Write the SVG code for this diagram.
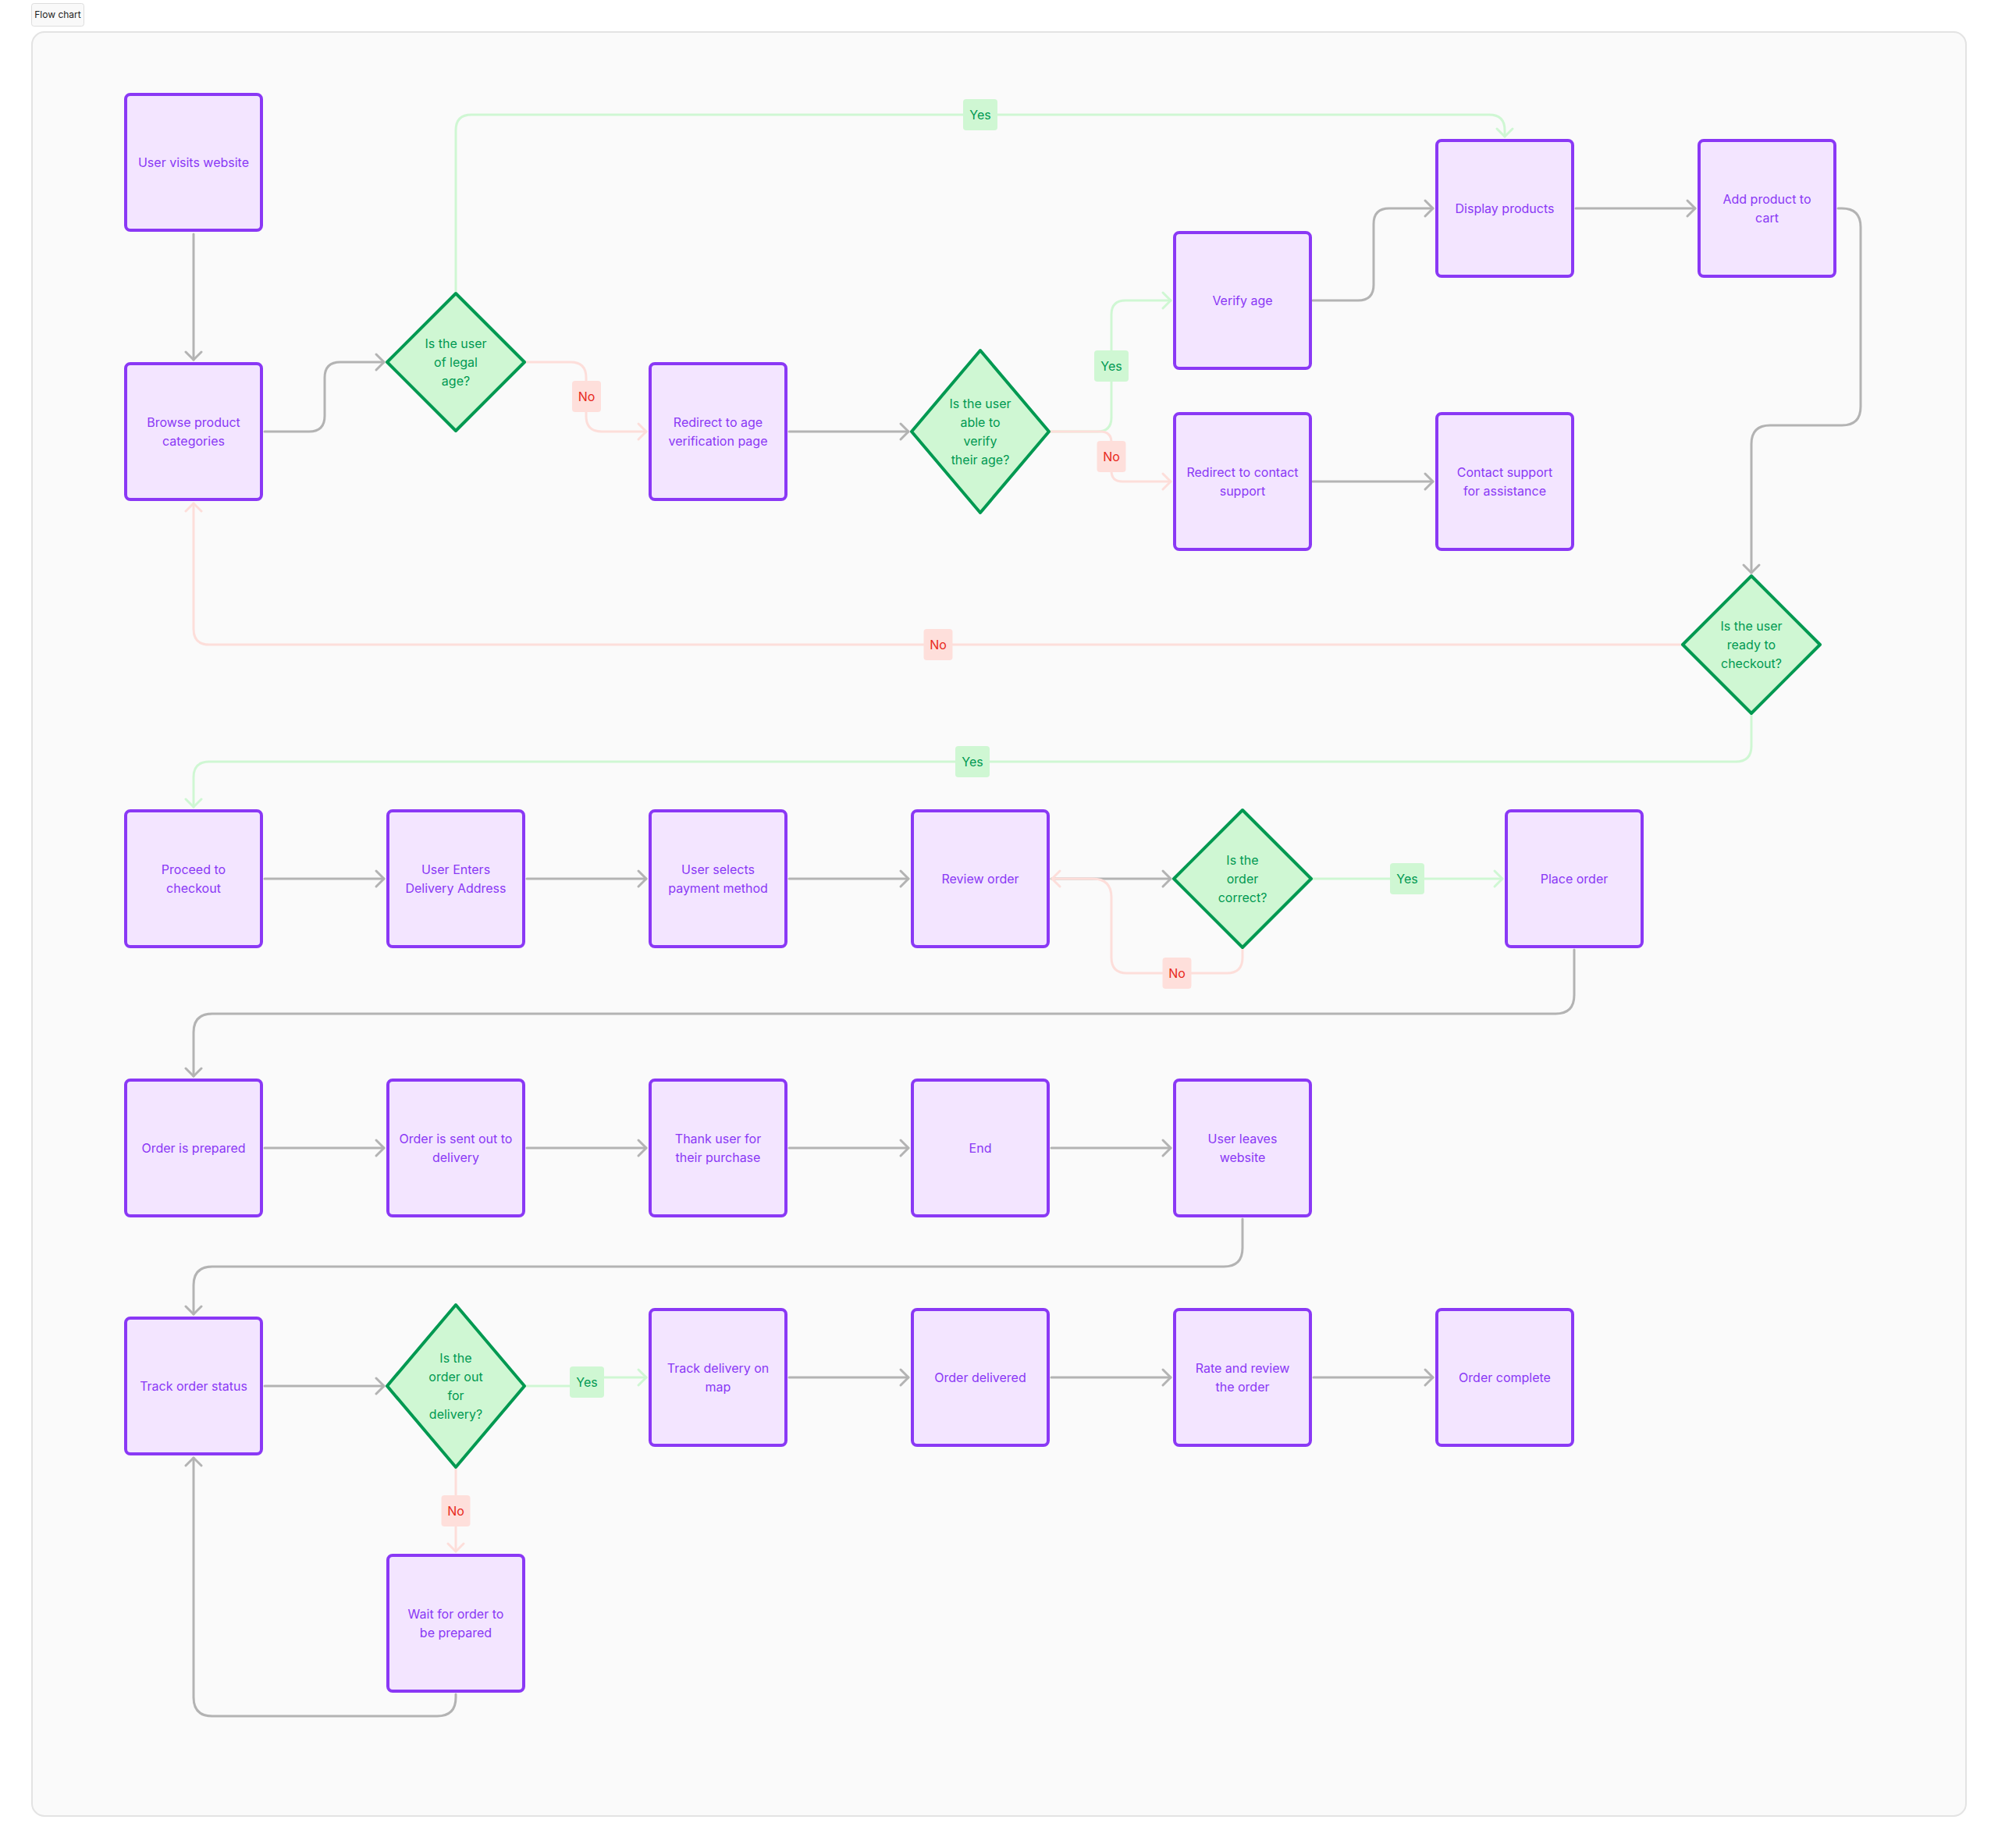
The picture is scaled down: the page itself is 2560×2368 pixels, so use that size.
<svg xmlns="http://www.w3.org/2000/svg" width="2560" height="2368" viewBox="0 0 2560 2368">
<style>
.node rect{fill:#F3E5FF;stroke:#8A38F5;stroke-width:4}
.node text{fill:#8A38F5}
.dec path{fill:#CFF7D3;stroke:#009951;stroke-width:4;stroke-linejoin:round}
.dec text{fill:#009951}
text{font-family:Inter,"Noto Sans","Liberation Sans",sans-serif;font-size:16px;text-anchor:middle;dominant-baseline:central}
.c{fill:none;stroke-width:3;stroke-linecap:round;stroke-linejoin:round}
.g{stroke:#B3B3B3}
.y{stroke:#CFF7D3}
.n{stroke:#FDDEDA}
.ly rect{fill:#CFF7D3}
.ly text{fill:#009951}
.ln rect{fill:#FEDFDB}
.ln text{fill:#E8291C}
</style>
<defs>
<marker id="ag" markerUnits="userSpaceOnUse" markerWidth="24" markerHeight="24" refX="0" refY="0" orient="auto" overflow="visible"><path d="M-10,-10 L0,0 L-10,10" fill="none" stroke="#B3B3B3" stroke-width="3" stroke-linecap="round" stroke-linejoin="round"/></marker>
<marker id="ay" markerUnits="userSpaceOnUse" markerWidth="24" markerHeight="24" refX="0" refY="0" orient="auto" overflow="visible"><path d="M-10,-10 L0,0 L-10,10" fill="none" stroke="#CFF7D3" stroke-width="3" stroke-linecap="round" stroke-linejoin="round"/></marker>
<marker id="an" markerUnits="userSpaceOnUse" markerWidth="24" markerHeight="24" refX="0" refY="0" orient="auto" overflow="visible"><path d="M-10,-10 L0,0 L-10,10" fill="none" stroke="#FDDEDA" stroke-width="3" stroke-linecap="round" stroke-linejoin="round"/></marker>
</defs>
<rect x="0" y="0" width="2560" height="2368" fill="#FFFFFF"/>
<g id="tag">
<rect x="40.5" y="4.5" width="67" height="29" rx="3" fill="#F9F9F9" stroke="#DDDDDD" stroke-width="1"/>
<text x="74" y="18.5" style="font-size:12px;fill:#1E1E1E">Flow chart</text>
</g>
<rect id="frame" x="41" y="41" width="2478" height="2286" rx="16" fill="#FAFAFA" stroke="#E3E3E3" stroke-width="2"/>
<g id="connectors">
<path class="c g" d="M248 300 V461" marker-end="url(#ag)"/>
<path class="c g" d="M339 553 H396 Q416 553 416 533 V484 Q416 464 436 464 H492" marker-end="url(#ag)"/>
<path class="c y" d="M584 374 V167 Q584 147 604 147 H1908 Q1928 147 1928 167 V175" marker-end="url(#ay)"/>
<path class="c n" d="M673 464 H731 Q751 464 751 484 V533 Q751 553 771 553 H828" marker-end="url(#an)"/>
<path class="c g" d="M1011 553 H1164" marker-end="url(#ag)"/>
<path class="c y" d="M1346 553 H1406 Q1424 553 1424 535 V403 Q1424 385 1442 385 H1500" marker-end="url(#ay)"/>
<path class="c n" d="M1346 553 H1410 Q1424 553 1424 567 V603 Q1424 617 1438 617 H1500" marker-end="url(#an)"/>
<path class="c g" d="M1682 385 H1740 Q1760 385 1760 365 V287 Q1760 267 1780 267 H1836" marker-end="url(#ag)"/>
<path class="c g" d="M1682 617 H1836" marker-end="url(#ag)"/>
<path class="c g" d="M2019 267 H2172" marker-end="url(#ag)"/>
<path class="c g" d="M2355 267 H2360 Q2384 267 2384 291 V521 Q2384 545 2360 545 H2268 Q2244 545 2244 569 V734" marker-end="url(#ag)"/>
<path class="c n" d="M2155 826 H268 Q248 826 248 806 V645" marker-end="url(#an)"/>
<path class="c y" d="M2244 916 V956 Q2244 976 2224 976 H268 Q248 976 248 996 V1034" marker-end="url(#ay)"/>
<path class="c g" d="M339 1126 H492" marker-end="url(#ag)"/>
<path class="c g" d="M675 1126 H828" marker-end="url(#ag)"/>
<path class="c g" d="M1011 1126 H1164" marker-end="url(#ag)"/>
<path class="c g" d="M1347 1126 H1500" marker-end="url(#ag)"/>
<path class="c n" d="M1592 1216 V1227 Q1592 1247 1572 1247 H1444 Q1424 1247 1424 1227 V1150 Q1424 1126 1400 1126 H1348" marker-end="url(#an)"/>
<path class="c y" d="M1682 1126 H1925" marker-end="url(#ay)"/>
<path class="c g" d="M2017 1217 V1275 Q2017 1299 1993 1299 H272 Q248 1299 248 1323 V1379" marker-end="url(#ag)"/>
<path class="c g" d="M339 1471 H492" marker-end="url(#ag)"/>
<path class="c g" d="M675 1471 H828" marker-end="url(#ag)"/>
<path class="c g" d="M1011 1471 H1164" marker-end="url(#ag)"/>
<path class="c g" d="M1347 1471 H1500" marker-end="url(#ag)"/>
<path class="c g" d="M1592 1562 V1599 Q1592 1623 1568 1623 H272 Q248 1623 248 1647 V1684" marker-end="url(#ag)"/>
<path class="c g" d="M339 1776 H492" marker-end="url(#ag)"/>
<path class="c y" d="M674 1776 H746 Q752 1776 752 1770 Q752 1765 758 1765 H828" marker-end="url(#ay)"/>
<path class="c n" d="M584 1882 V1988" marker-end="url(#an)"/>
<path class="c g" d="M584 2171 V2175 Q584 2199 560 2199 H272 Q248 2199 248 2175 V1868" marker-end="url(#ag)"/>
<path class="c g" d="M1011 1765 H1164" marker-end="url(#ag)"/>
<path class="c g" d="M1347 1765 H1500" marker-end="url(#ag)"/>
<path class="c g" d="M1683 1765 H1836" marker-end="url(#ag)"/>
<g class="ly"><rect x="1234" y="127" width="44" height="40" rx="4"/><text x="1256" y="147">Yes</text></g>
<g class="ln"><rect x="733" y="488" width="37" height="40" rx="4"/><text x="751.5" y="508">No</text></g>
<g class="ly"><rect x="1402" y="449" width="44" height="40" rx="4"/><text x="1424" y="469">Yes</text></g>
<g class="ln"><rect x="1405.5" y="565" width="37" height="40" rx="4"/><text x="1424" y="585">No</text></g>
<g class="ln"><rect x="1183.5" y="806" width="37" height="40" rx="4"/><text x="1202" y="826">No</text></g>
<g class="ly"><rect x="1224" y="956" width="44" height="40" rx="4"/><text x="1246" y="976">Yes</text></g>
<g class="ln"><rect x="1489.5" y="1227" width="37" height="40" rx="4"/><text x="1508" y="1247">No</text></g>
<g class="ly"><rect x="1781" y="1106" width="44" height="40" rx="4"/><text x="1803" y="1126">Yes</text></g>
<g class="ly"><rect x="730" y="1751" width="44" height="40" rx="4"/><text x="752" y="1771">Yes</text></g>
<g class="ln"><rect x="565.5" y="1916" width="37" height="40" rx="4"/><text x="584" y="1936">No</text></g>
</g>
<g id="n1" class="node"><rect x="161" y="121" width="174" height="174" rx="6"/><text x="248" y="208">User visits website</text></g>
<g id="n2" class="node"><rect x="161" y="466" width="174" height="174" rx="6"/><text x="248" y="541">Browse product</text><text x="248" y="565">categories</text></g>
<g id="d1" class="dec"><path d="M584 376 L672 464 L584 552 L496 464 Z"/><text x="584" y="440">Is the user</text><text x="584" y="464">of legal</text><text x="584" y="488">age?</text></g>
<g id="n3" class="node"><rect x="833" y="466" width="174" height="174" rx="6"/><text x="920" y="541">Redirect to age</text><text x="920" y="565">verification page</text></g>
<g id="d2" class="dec"><path d="M1256 449 L1344 553 L1256 657 L1168 553 Z"/><text x="1256" y="517">Is the user</text><text x="1256" y="541">able to</text><text x="1256" y="565">verify</text><text x="1256" y="589">their age?</text></g>
<g id="n4" class="node"><rect x="1505" y="298" width="174" height="174" rx="6"/><text x="1592" y="385">Verify age</text></g>
<g id="n5" class="node"><rect x="1505" y="530" width="174" height="174" rx="6"/><text x="1592" y="605">Redirect to contact</text><text x="1592" y="629">support</text></g>
<g id="n6" class="node"><rect x="1841" y="530" width="174" height="174" rx="6"/><text x="1928" y="605">Contact support</text><text x="1928" y="629">for assistance</text></g>
<g id="n7" class="node"><rect x="1841" y="180" width="174" height="174" rx="6"/><text x="1928" y="267">Display products</text></g>
<g id="n8" class="node"><rect x="2177" y="180" width="174" height="174" rx="6"/><text x="2264" y="255">Add product to</text><text x="2264" y="279">cart</text></g>
<g id="d3" class="dec"><path d="M2244 738 L2332 826 L2244 914 L2156 826 Z"/><text x="2244" y="802">Is the user</text><text x="2244" y="826">ready to</text><text x="2244" y="850">checkout?</text></g>
<g id="n9" class="node"><rect x="161" y="1039" width="174" height="174" rx="6"/><text x="248" y="1114">Proceed to</text><text x="248" y="1138">checkout</text></g>
<g id="n10" class="node"><rect x="497" y="1039" width="174" height="174" rx="6"/><text x="584" y="1114">User Enters</text><text x="584" y="1138">Delivery Address</text></g>
<g id="n11" class="node"><rect x="833" y="1039" width="174" height="174" rx="6"/><text x="920" y="1114">User selects</text><text x="920" y="1138">payment method</text></g>
<g id="n12" class="node"><rect x="1169" y="1039" width="174" height="174" rx="6"/><text x="1256" y="1126">Review order</text></g>
<g id="d4" class="dec"><path d="M1592 1038 L1680 1126 L1592 1214 L1504 1126 Z"/><text x="1592" y="1102">Is the</text><text x="1592" y="1126">order</text><text x="1592" y="1150">correct?</text></g>
<g id="n13" class="node"><rect x="1930" y="1039" width="174" height="174" rx="6"/><text x="2017" y="1126">Place order</text></g>
<g id="n14" class="node"><rect x="161" y="1384" width="174" height="174" rx="6"/><text x="248" y="1471">Order is prepared</text></g>
<g id="n15" class="node"><rect x="497" y="1384" width="174" height="174" rx="6"/><text x="584" y="1459">Order is sent out to</text><text x="584" y="1483">delivery</text></g>
<g id="n16" class="node"><rect x="833" y="1384" width="174" height="174" rx="6"/><text x="920" y="1459">Thank user for</text><text x="920" y="1483">their purchase</text></g>
<g id="n17" class="node"><rect x="1169" y="1384" width="174" height="174" rx="6"/><text x="1256" y="1471">End</text></g>
<g id="n18" class="node"><rect x="1505" y="1384" width="174" height="174" rx="6"/><text x="1592" y="1459">User leaves</text><text x="1592" y="1483">website</text></g>
<g id="n19" class="node"><rect x="161" y="1689" width="174" height="174" rx="6"/><text x="248" y="1776">Track order status</text></g>
<g id="d5" class="dec"><path d="M584 1672 L672 1776 L584 1880 L496 1776 Z"/><text x="584" y="1740">Is the</text><text x="584" y="1764">order out</text><text x="584" y="1788">for</text><text x="584" y="1812">delivery?</text></g>
<g id="n20" class="node"><rect x="833" y="1678" width="174" height="174" rx="6"/><text x="920" y="1753">Track delivery on</text><text x="920" y="1777">map</text></g>
<g id="n21" class="node"><rect x="1169" y="1678" width="174" height="174" rx="6"/><text x="1256" y="1765">Order delivered</text></g>
<g id="n22" class="node"><rect x="1505" y="1678" width="174" height="174" rx="6"/><text x="1592" y="1753">Rate and review</text><text x="1592" y="1777">the order</text></g>
<g id="n23" class="node"><rect x="1841" y="1678" width="174" height="174" rx="6"/><text x="1928" y="1765">Order complete</text></g>
<g id="n24" class="node"><rect x="497" y="1993" width="174" height="174" rx="6"/><text x="584" y="2068">Wait for order to</text><text x="584" y="2092">be prepared</text></g>
</svg>
